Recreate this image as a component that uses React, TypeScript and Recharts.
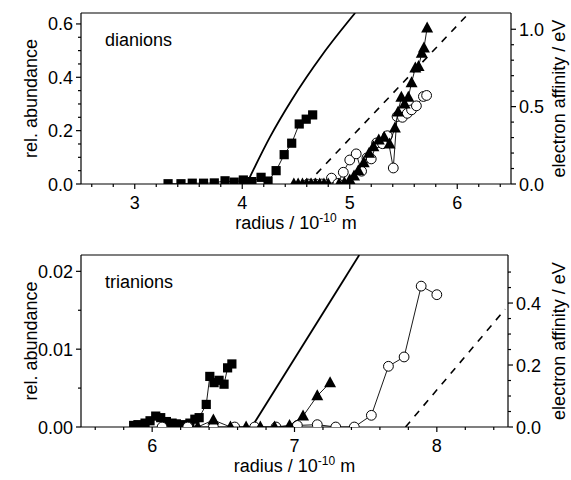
import React from 'react';
import { ComposedChart, Scatter, Line, XAxis, YAxis, ReferenceLine } from 'recharts';

const FONT = '"Liberation Sans", Arial, sans-serif';

// ---- dianions (top panel) ----
const diSquares = [
  { x: 3.31, y: 0.001 }, { x: 3.43, y: 0.001 }, { x: 3.535, y: 0.003 }, { x: 3.64, y: 0.003 },
  { x: 3.74, y: 0.004 }, { x: 3.84, y: 0.012 }, { x: 3.925, y: 0.007 }, { x: 4.01, y: 0.015 },
  { x: 4.09, y: 0.009 }, { x: 4.175, y: 0.025 }, { x: 4.24, y: 0.011 }, { x: 4.315, y: 0.05 },
  { x: 4.39, y: 0.11 }, { x: 4.46, y: 0.153 }, { x: 4.53, y: 0.225 }, { x: 4.595, y: 0.243 },
  { x: 4.655, y: 0.259 },
];
const diTriangles = [
  { x: 4.48, y: 0 }, { x: 4.52, y: 0 }, { x: 4.56, y: 0 }, { x: 4.6, y: 0 }, { x: 4.64, y: 0 },
  { x: 4.68, y: 0 }, { x: 4.72, y: 0 }, { x: 4.76, y: 0 }, { x: 4.8, y: 0 }, { x: 4.9, y: 0 },
  { x: 4.95, y: 0.005 }, { x: 5.0, y: 0.015 }, { x: 5.04, y: 0.03 }, { x: 5.08, y: 0.05 },
  { x: 5.13, y: 0.08 }, { x: 5.18, y: 0.115 }, { x: 5.22, y: 0.14 }, { x: 5.27, y: 0.165 },
  { x: 5.32, y: 0.175 }, { x: 5.37, y: 0.15 }, { x: 5.42, y: 0.21 }, { x: 5.45, y: 0.27 },
  { x: 5.48, y: 0.325 }, { x: 5.51, y: 0.3 }, { x: 5.545, y: 0.325 }, { x: 5.575, y: 0.38 },
  { x: 5.61, y: 0.435 }, { x: 5.64, y: 0.44 }, { x: 5.67, y: 0.49 }, { x: 5.69, y: 0.51 },
  { x: 5.72, y: 0.585 },
];
const diCircles = [
  { x: 4.61, y: 0 }, { x: 4.68, y: 0 }, { x: 4.74, y: 0 }, { x: 4.8, y: 0 }, { x: 4.83, y: 0.022 },
  { x: 4.89, y: 0.002 }, { x: 4.94, y: 0.044 }, { x: 5.0, y: 0.09 }, { x: 5.06, y: 0.113 },
  { x: 5.11, y: 0.048 }, { x: 5.16, y: 0.098 }, { x: 5.2, y: 0.094 }, { x: 5.25, y: 0.154 },
  { x: 5.305, y: 0.151 }, { x: 5.35, y: 0.181 }, { x: 5.405, y: 0.06 }, { x: 5.44, y: 0.253 },
  { x: 5.49, y: 0.25 }, { x: 5.535, y: 0.265 }, { x: 5.575, y: 0.278 }, { x: 5.62, y: 0.293 },
  { x: 5.685, y: 0.328 }, { x: 5.715, y: 0.332 },
];
const diSolid = [
  { x: 4.04, y: 0 }, { x: 4.26, y: 0.306 }, { x: 4.46, y: 0.543 }, { x: 4.75, y: 0.84 }, { x: 5.05, y: 1.105 },
];
const diDashed = [{ x: 4.6, y: 0 }, { x: 6.09, y: 1.09 }];

const diXMajor = [3, 4, 5, 6];
const diXMinor = [2.6, 2.8, 3.2, 3.4, 3.6, 3.8, 4.2, 4.4, 4.6, 4.8, 5.2, 5.4, 5.6, 5.8, 6.2, 6.4];
const diAbMajor = [0, 0.2, 0.4, 0.6];
const diAbMinor = [0.05, 0.1, 0.15, 0.25, 0.3, 0.35, 0.45, 0.5, 0.55];
const diEaMajor = [0, 0.5, 1.0];
const diEaMinor = [0.1, 0.2, 0.3, 0.4, 0.6, 0.7, 0.8, 0.9];

// ---- trianions (bottom panel) ----
const triSquares = [
  { x: 5.87, y: 0.0002 }, { x: 5.9, y: 0.0003 }, { x: 5.95, y: 0.0005 }, { x: 5.985, y: 0.0008 },
  { x: 6.025, y: 0.0014 }, { x: 6.06, y: 0.0012 }, { x: 6.1, y: 0.0007 }, { x: 6.14, y: 0.0005 },
  { x: 6.17, y: 0.0004 }, { x: 6.21, y: 0.0003 }, { x: 6.265, y: 0.0005 }, { x: 6.3, y: 0.001 },
  { x: 6.33, y: 0.0012 }, { x: 6.38, y: 0.0029 }, { x: 6.405, y: 0.0065 }, { x: 6.435, y: 0.0057 },
  { x: 6.47, y: 0.006 }, { x: 6.505, y: 0.0055 }, { x: 6.53, y: 0.0076 }, { x: 6.56, y: 0.0081 },
];
const triTriangles = [
  { x: 6.32, y: 0 }, { x: 6.43, y: 0.0009 }, { x: 6.55, y: 0 }, { x: 6.66, y: 0 }, { x: 6.76, y: 0 },
  { x: 6.86, y: 0 }, { x: 6.965, y: 0.0002 }, { x: 7.06, y: 0.0014 }, { x: 7.16, y: 0.004 },
  { x: 7.25, y: 0.0057 },
];
const triCircles = [
  { x: 6.07, y: 0 }, { x: 6.25, y: 0 }, { x: 6.43, y: 0 }, { x: 6.58, y: 0 }, { x: 6.72, y: 0 },
  { x: 6.87, y: 0 }, { x: 7.02, y: 0.0002 }, { x: 7.16, y: 0.0003 }, { x: 7.29, y: 0 }, { x: 7.42, y: 0 },
  { x: 7.54, y: 0.0015 }, { x: 7.66, y: 0.0078 }, { x: 7.77, y: 0.009 }, { x: 7.89, y: 0.0181 },
  { x: 8.0, y: 0.017 },
];
const triSolid = [{ x: 6.7, y: 0 }, { x: 7.455, y: 0.555 }];
const triDashed = [{ x: 7.78, y: 0 }, { x: 8.48, y: 0.38 }];

const triXMajor = [6, 7, 8];
const triXMinor = [5.6, 5.8, 6.2, 6.4, 6.6, 6.8, 7.2, 7.4, 7.6, 7.8, 8.2, 8.4];
const triAbMajor = [0, 0.01, 0.02];
const triAbMinor = [0.005, 0.015];
const triEaMajor = [0, 0.2, 0.4];
const triEaMinor = [0.05, 0.1, 0.15, 0.25, 0.3, 0.35, 0.45, 0.5];

const FS = 18;

const sortTicks = (a: number[], b: number[]) => [...a, ...b].sort((p, q) => p - q);

const makeTick = (side: 'left' | 'right' | 'bottom', majors: number[], digits: number) => (props: any) => {
  const { x, y, payload } = props;
  const v = payload.value;
  const major = majors.some((m) => Math.abs(m - v) < 1e-9);
  const len = major ? 5 : 3;
  const txt = v.toFixed(digits);
  const common = { fontSize: FS, fontFamily: FONT, fill: '#000' };
  if (side === 'bottom') {
    return (
      <g>
        <line x1={x} y1={y} x2={x} y2={y + len} stroke="#000" strokeWidth={1.2} />
        {major && <text x={x} y={y + 25} textAnchor="middle" {...common}>{txt}</text>}
      </g>
    );
  }
  const dir = side === 'left' ? -1 : 1;
  return (
    <g>
      <line x1={x} y1={y} x2={x + dir * len} y2={y} stroke="#000" strokeWidth={1.2} />
      {major && (
        <text x={x + dir * 8} y={y + 6.5} textAnchor={side === 'left' ? 'end' : 'start'} {...common}>{txt}</text>
      )}
    </g>
  );
};

const vLabel = (text: string, cx: number) => (props: any) => {
  const vb = props.viewBox;
  const cy = vb.y + vb.height / 2;
  return (
    <text x={cx} y={cy} transform={`rotate(-90 ${cx} ${cy})`} textAnchor="middle" dominantBaseline="middle"
      fontSize={FS} fontFamily={FONT} fill="#000">{text}</text>
  );
};

const xLabel = (props: any) => {
  const vb = props.viewBox;
  const cx = vb.x + vb.width / 2;
  return (
    <text x={cx} y={vb.y + 45} textAnchor="middle" fontSize={FS} fontFamily={FONT} fill="#000">
      radius / 10<tspan dy={-7} fontSize={12}>-10</tspan><tspan dy={7}> m</tspan>
    </text>
  );
};

const panelName = (text: string) => (props: any) => {
  const vb = props.viewBox;
  return (
    <text x={vb.x + 24} y={vb.y + 33} fontSize={FS} fontFamily={FONT} fill="#000">{text}</text>
  );
};

const SquareDot = (p: any) => <rect x={p.cx - 4.6} y={p.cy - 4.6} width={9.2} height={9.2} fill="#000" />;
const TriDot = (p: any) => (
  <polygon points={`${p.cx},${p.cy - 6.5} ${p.cx - 6},${p.cy + 4.5} ${p.cx + 6},${p.cy + 4.5}`} fill="#000" />
);
const CircDot = (p: any) => <circle cx={p.cx} cy={p.cy} r={4.9} fill="#fff" stroke="#000" strokeWidth={1} />;

type Pt = { x: number; y: number };
type PanelProps = {
  top: number;
  marginTop: number;
  xAxisHeight: number;
  rightWidth: number;
  name: string;
  xDomain: [number, number];
  xMajor: number[];
  xMinor: number[];
  abDomain: [number, number];
  abMajor: number[];
  abMinor: number[];
  abDigits: number;
  eaDomain: [number, number];
  eaMajor: number[];
  eaMinor: number[];
  squares: Pt[];
  triangles: Pt[];
  circles: Pt[];
  solid: Pt[];
  dashed: Pt[];
  solidType: 'monotone' | 'linear';
};

const Panel = (p: PanelProps) => (
  <div style={{ position: 'absolute', left: 0, top: p.top, width: 571, height: 240 }}>
    <ComposedChart width={571} height={240} margin={{ top: p.marginTop, right: 0, bottom: 0, left: 0 }}>
      <XAxis
        xAxisId="x"
        dataKey="x"
        type="number"
        domain={p.xDomain}
        allowDataOverflow
        ticks={sortTicks(p.xMajor, p.xMinor)}
        interval={0}
        tickSize={0}
        tickMargin={0}
        tick={makeTick('bottom', p.xMajor, 0)}
        height={p.xAxisHeight}
        axisLine={{ stroke: '#000', strokeWidth: 1.2 }}
        label={xLabel}
      />
      <YAxis
        yAxisId="ab"
        dataKey="y"
        type="number"
        orientation="left"
        domain={p.abDomain}
        allowDataOverflow
        ticks={sortTicks(p.abMajor, p.abMinor)}
        interval={0}
        tickSize={0}
        tickMargin={0}
        tick={makeTick('left', p.abMajor, p.abDigits)}
        width={81}
        axisLine={{ stroke: '#000', strokeWidth: 1.2 }}
        label={vLabel('rel. abundance', 32)}
      />
      <YAxis
        yAxisId="ea"
        dataKey="y"
        type="number"
        orientation="right"
        domain={p.eaDomain}
        allowDataOverflow
        ticks={sortTicks(p.eaMajor, p.eaMinor)}
        interval={0}
        tickSize={0}
        tickMargin={0}
        tick={makeTick('right', p.eaMajor, 1)}
        width={p.rightWidth}
        axisLine={{ stroke: '#000', strokeWidth: 1.2 }}
        label={vLabel('electron affinity / eV', 560)}
      />
      <ReferenceLine
        xAxisId="x"
        yAxisId="ab"
        y={p.abDomain[1]}
        stroke="#000"
        strokeWidth={1.2}
        label={panelName(p.name)}
      />
      <Line xAxisId="x" yAxisId="ea" data={p.solid} dataKey="y" type={p.solidType} stroke="#000"
        strokeWidth={1.8} dot={false} activeDot={false} isAnimationActive={false} />
      <Line xAxisId="x" yAxisId="ea" data={p.dashed} dataKey="y" type="linear" stroke="#000"
        strokeWidth={1.6} strokeDasharray="7 7" dot={false} activeDot={false} isAnimationActive={false} />
      <Scatter xAxisId="x" yAxisId="ab" data={p.squares} line={{ stroke: '#000', strokeWidth: 0.9 }}
        shape={SquareDot} isAnimationActive={false} />
      <Scatter xAxisId="x" yAxisId="ab" data={p.circles} line={{ stroke: '#000', strokeWidth: 0.9 }}
        shape={CircDot} isAnimationActive={false} />
      <Scatter xAxisId="x" yAxisId="ab" data={p.triangles} line={{ stroke: '#000', strokeWidth: 0.9 }}
        shape={TriDot} isAnimationActive={false} />
    </ComposedChart>
  </div>
);

export default function App() {
  return (
    <div style={{ position: 'absolute', left: 0, top: 0, width: 571, height: 480, background: '#fff' }}>
      <Panel
        top={0}
        marginTop={13}
        xAxisHeight={56}
        rightWidth={60}
        name="dianions"
        xDomain={[2.5, 6.5]}
        xMajor={diXMajor}
        xMinor={diXMinor}
        abDomain={[0, 0.641]}
        abMajor={diAbMajor}
        abMinor={diAbMinor}
        abDigits={1}
        eaDomain={[0, 1.105]}
        eaMajor={diEaMajor}
        eaMinor={diEaMinor}
        squares={diSquares}
        triangles={diTriangles}
        circles={diCircles}
        solid={diSolid}
        dashed={diDashed}
        solidType="monotone"
      />
      <Panel
        top={240}
        marginTop={15}
        xAxisHeight={53}
        rightWidth={63}
        name="trianions"
        xDomain={[5.5, 8.5]}
        xMajor={triXMajor}
        xMinor={triXMinor}
        abDomain={[0, 0.0221]}
        abMajor={triAbMajor}
        abMinor={triAbMinor}
        abDigits={2}
        eaDomain={[0, 0.555]}
        eaMajor={triEaMajor}
        eaMinor={triEaMinor}
        squares={triSquares}
        triangles={triTriangles}
        circles={triCircles}
        solid={triSolid}
        dashed={triDashed}
        solidType="linear"
      />
    </div>
  );
}
